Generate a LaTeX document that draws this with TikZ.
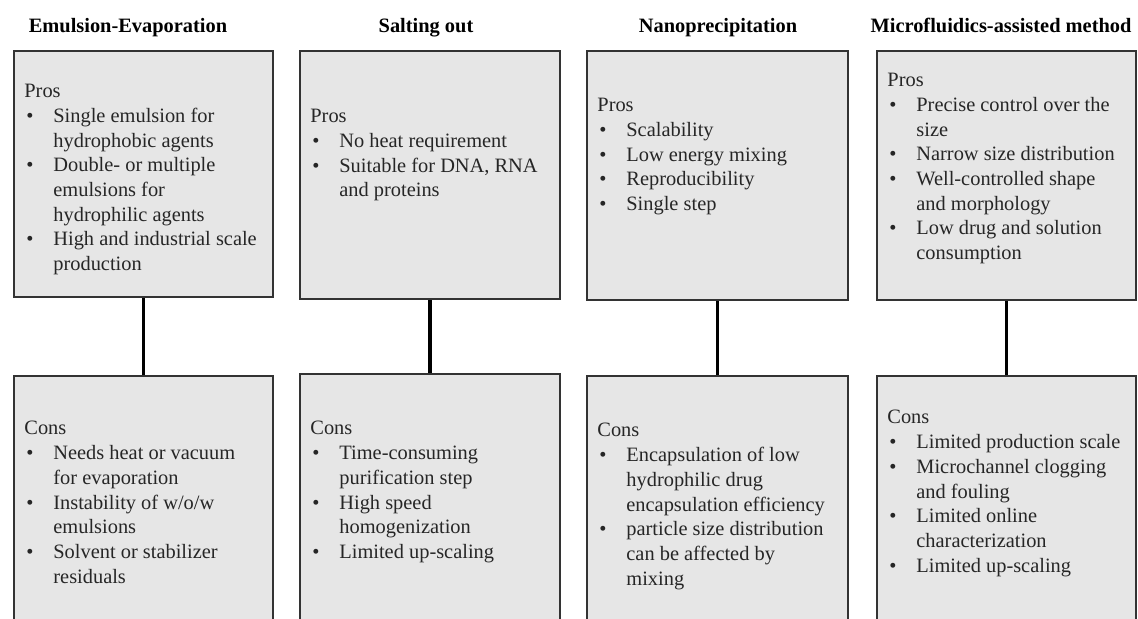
\documentclass[tikz,border=0pt]{standalone}
\usepackage{fontspec}
\setmainfont{Liberation Serif}
\usetikzlibrary{fit}
\definecolor{boxfill}{RGB}{230,230,230}
\definecolor{txtcol}{RGB}{38,38,38}
\newcommand{\bitem}[1]{\makebox[14.5pt][l]{\hspace{1pt}\textbullet}#1}
\newcommand{\contl}[1]{\hspace*{14.5pt}#1}
\begin{document}
\begin{tikzpicture}[x=0.5pt,y=-0.5pt,
  box/.style={draw=black!80, line width=1.2pt, fill=boxfill, inner sep=0pt, rectangle},
  conn/.style={line width=1.9pt, black},
  ttl/.style={font=\bfseries\fontsize{10.2}{12}\selectfont, anchor=base, inner sep=0pt},
  txt/.style={font=\fontsize{10.2}{12.35}\selectfont, align=left, anchor=north west, inner sep=0pt, text=txtcol}]
\useasboundingbox (0,0) rectangle (1138,619);
\clip (0,0) rectangle (1138,619);
% titles
\node[ttl] (h1) at (128,33) {Emulsion-Evaporation};
\node[ttl] (h2) at (426,33) {Salting out};
\node[ttl] (h3) at (718,33) {Nanoprecipitation};
\node[ttl] (h4) at (1001,33) {Microfluidics-assisted method};
% boxes
\node[box, fit={(14,51) (273,297)}] (t1) {};
\node[box, fit={(14,376) (273,660)}] (b1) {};
\node[box, fit={(300,51) (560,299)}] (t2) {};
\node[box, fit={(300,374) (560,660)}] (b2) {};
\node[box, fit={(587,51) (848,300)}] (t3) {};
\node[box, fit={(587,376) (848,660)}] (b3) {};
\node[box, fit={(877,51) (1136,300)}] (t4) {};
\node[box, fit={(877,376) (1136,660)}] (b4) {};
% connectors
\draw[conn] (t1.south) -- (b1.north);
\draw[conn] (t2.south) -- (b2.north);
\draw[conn] (t3.south) -- (b3.north);
\draw[conn] (t4.south) -- (b4.north);
% texts
\node[txt] (p1) at (24,84) {Pros\\
\bitem{Single emulsion for}\\
\contl{hydrophobic agents}\\
\bitem{Double- or multiple}\\
\contl{emulsions for}\\
\contl{hydrophilic agents}\\
\bitem{High and industrial scale}\\
\contl{production}};
\node[txt] (c1) at (24,421) {Cons\\
\bitem{Needs heat or vacuum}\\
\contl{for evaporation}\\
\bitem{Instability of w/o/w}\\
\contl{emulsions}\\
\bitem{Solvent or stabilizer}\\
\contl{residuals}};
\node[txt] (p2) at (310,109) {Pros\\
\bitem{No heat requirement}\\
\bitem{Suitable for DNA, RNA}\\
\contl{and proteins}};
\node[txt] (c2) at (310,421) {Cons\\
\bitem{Time-consuming}\\
\contl{purification step}\\
\bitem{High speed}\\
\contl{homogenization}\\
\bitem{Limited up-scaling}};
\node[txt] (p3) at (597,98) {Pros\\
\bitem{Scalability}\\
\bitem{Low energy mixing}\\
\bitem{Reproducibility}\\
\bitem{Single step}};
\node[txt] (c3) at (597,423) {Cons\\
\bitem{Encapsulation of low}\\
\contl{hydrophilic drug}\\
\contl{encapsulation efficiency}\\
\bitem{particle size distribution}\\
\contl{can be affected by}\\
\contl{mixing}};
\node[txt] (p4) at (887,73) {Pros\\
\bitem{Precise control over the}\\
\contl{size}\\
\bitem{Narrow size distribution}\\
\bitem{Well-controlled shape}\\
\contl{and morphology}\\
\bitem{Low drug and solution}\\
\contl{consumption}};
\node[txt] (c4) at (887,410) {Cons\\
\bitem{Limited production scale}\\
\bitem{Microchannel clogging}\\
\contl{and fouling}\\
\bitem{Limited online}\\
\contl{characterization}\\
\bitem{Limited up-scaling}};
\end{tikzpicture}
\end{document}
